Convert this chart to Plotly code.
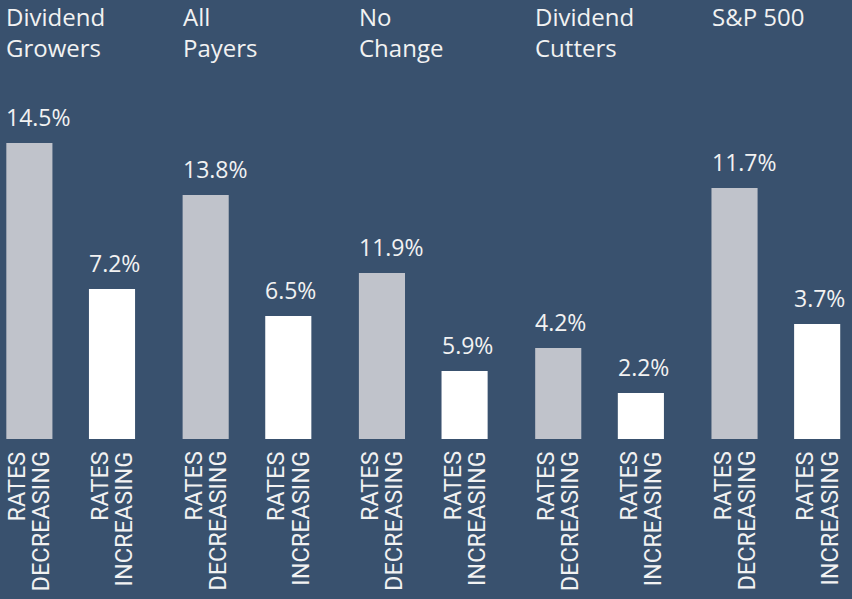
import plotly.graph_objects as go

# ---- data ----
groups = ["Dividend Growers", "All Payers", "No Change", "Dividend Cutters", "S&P 500"]
group_titles = ["Dividend<br>Growers", "All<br>Payers", "No<br>Change", "Dividend<br>Cutters", "S&P 500"]
decreasing_values = [14.5, 13.8, 11.9, 4.2, 11.7]
increasing_values = [7.2, 6.5, 5.9, 2.2, 3.7]
# bar heights as drawn in the original infographic (not proportional to the labels)
decreasing_heights = [296, 244, 166, 91, 251]
increasing_heights = [150, 123, 68, 46, 115]
bar_label_line1 = "RATES"
decreasing_label = "DECREASING"
increasing_label = "INCREASING"

BG = "#39516e"
GRAY = "#c0c3cb"
WHITE = "#ffffff"
TXT = "#f2f2f2"
TITLE_FONT = "Open Sans, Noto Sans, sans-serif"
LABEL_FONT = "Liberation Sans Narrow, Roboto, sans-serif"

OFF = 41.25   # px offset of each bar center from group center
BW = 46       # bar width px (approx)

fig = go.Figure()
fig.add_trace(go.Bar(x=groups, y=decreasing_heights, marker=dict(color=GRAY, line=dict(width=0)),
                     name="Rates decreasing", hoverinfo="skip"))
fig.add_trace(go.Bar(x=groups, y=increasing_heights, marker=dict(color=WHITE, line=dict(width=0)),
                     name="Rates increasing", hoverinfo="skip"))

ann = []
for i, g in enumerate(groups):
    # group title
    ann.append(dict(x=g, xref="x", xshift=-OFF - BW / 2 - 2, xanchor="left",
                    y=1, yref="paper", yanchor="top", yshift=2, align="left",
                    text=group_titles[i], showarrow=False,
                    font=dict(family=TITLE_FONT, size=24, color=TXT)))
    for sign, vals, hts, lab in ((-1, decreasing_values, decreasing_heights, decreasing_label),
                                 (1, increasing_values, increasing_heights, increasing_label)):
        # value label
        ann.append(dict(x=g, xref="x", xshift=sign * OFF - BW / 2 - 2, xanchor="left",
                        y=hts[i], yref="y", yanchor="bottom", yshift=8,
                        text=f"{vals[i]:.1f}%", showarrow=False,
                        font=dict(family=TITLE_FONT, size=23, color=TXT)))
        # rotated category label, two lines
        for k, txt in enumerate((bar_label_line1, lab)):
            ann.append(dict(x=g, xref="x", xshift=sign * OFF - 12 + 24 * k, xanchor="center",
                            y=0, yref="y", yanchor="top", yshift=-10,
                            text=txt, textangle=-90, showarrow=False,
                            font=dict(family=LABEL_FONT, size=23.5, color=TXT)))

fig.update_layout(
    width=852, height=599,
    paper_bgcolor=BG, plot_bgcolor=BG,
    margin=dict(l=0, r=0, t=0, b=160),
    barmode="group", bargap=0.0625, bargroupgap=0.442,
    showlegend=False,
    xaxis=dict(range=[-0.401, 4.432], showticklabels=False, showgrid=False,
               zeroline=False, showline=False, ticks=""),
    yaxis=dict(range=[0, 439], showticklabels=False, showgrid=False,
               zeroline=False, showline=False, ticks=""),
    annotations=ann,
)

fig.write_html("out.html", config={"displayModeBar": False},
               post_script="document.body.style.margin='0';document.body.style.overflow='hidden';")
